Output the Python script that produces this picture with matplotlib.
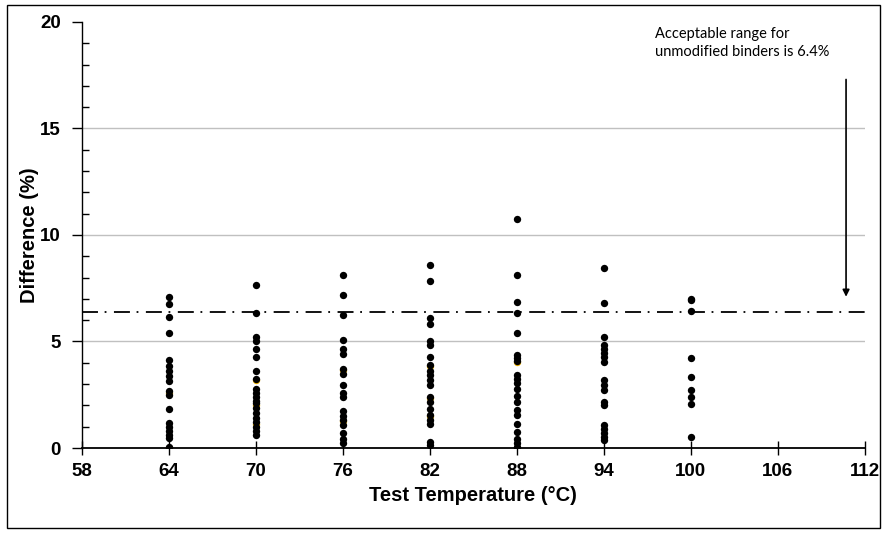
import numpy as np
import matplotlib
matplotlib.use('Agg')
import matplotlib.pyplot as plt
from matplotlib.patches import Rectangle
from matplotlib.ticker import MultipleLocator

temps = [64, 70, 76, 82, 88, 94, 100]

# difference (%), one list per test temperature
d64 = [7.07, 6.76, 6.13, 5.38, 4.13, 3.85, 3.63, 3.38, 3.13, 2.66, 2.49, 1.82,
       1.19, 1.0, 0.81, 0.61, 0.45, 0.06]
d70 = [7.65, 6.32, 5.2, 5.04, 4.63, 4.29, 3.63, 3.25, 2.75, 2.6, 2.41, 2.22,
       2.1, 1.86, 1.63, 1.39, 1.22, 1.0, 0.8, 0.61]
d76 = [8.12, 7.18, 6.24, 5.07, 4.63, 4.41, 3.72, 3.47, 2.96, 2.57, 2.41, 1.74,
       1.52, 1.31, 1.08, 0.72, 0.4, 0.25]
d82 = [8.59, 7.85, 6.12, 5.82, 5.04, 4.84, 4.26, 3.88, 3.63, 3.43, 3.19, 2.96,
       2.41, 2.17, 1.82, 1.53, 1.31, 1.13, 0.3, 0.14]
d88 = [10.75, 8.12, 6.84, 6.32, 5.41, 4.37, 4.21, 4.08, 3.43, 3.22, 3.03, 2.75,
       2.44, 2.17, 1.78, 1.55, 1.13, 0.77, 0.41, 0.22, 0.05]
d94 = [8.44, 6.79, 5.23, 4.84, 4.65, 4.44, 4.26, 4.05, 3.19, 2.96, 2.72, 2.17,
       2.02, 1.08, 0.89, 0.72, 0.5, 0.38]
d100 = [7.0, 6.95, 6.45, 4.24, 3.35, 2.72, 2.41, 2.07, 0.5]
diffs = [d64, d70, d76, d82, d88, d94, d100]

# second series (orange) mostly hidden behind the black points
o_temps = [64, 64, 70, 70, 70, 76, 76, 82, 82, 82, 88, 88]
o_diffs = [0.0, 2.58, 3.18, 2.03, 1.15, 3.66, 1.25, 3.84, 2.36, 1.48, 4.02, 0.0]

limit = 6.4

plt.rcParams['font.family'] = ['Liberation Sans', 'DejaVu Sans']
plt.rcParams['lines.scale_dashes'] = False

fig = plt.figure(figsize=(8.88, 5.35), dpi=100)
ax = fig.add_axes([0.092, 0.1626, 0.882, 0.7964])

fig.patches.append(Rectangle((0.008, 0.013), 0.983, 0.978, transform=fig.transFigure,
                             fill=False, ec='black', lw=1.0))

for v in [5, 10, 15]:
    ax.axhline(v, color='#c0c0c0', lw=1.0, zorder=0)

ax.scatter(o_temps, o_diffs, s=28, color='#f0b400', zorder=2, linewidths=0)
for t, d in zip(temps, diffs):
    ax.scatter(np.full(len(d), t), d, s=28, color='black', zorder=3, linewidths=0)

ax.plot([58, 112], [limit, limit], color='black', lw=1.3,
        linestyle=(0, (11.5, 4.8, 1.3, 5.4)), zorder=1)

ax.text(97.5, 19.75, 'Acceptable range for\nunmodified binders is 6.4%',
        family=['Lato', 'DejaVu Sans'], fontsize=10.5, va='top', ha='left',
        linespacing=1.35)
ax.annotate('', xy=(110.7, 7.1), xytext=(110.7, 17.3),
            arrowprops=dict(arrowstyle='-|>', color='black', lw=1.2,
                            mutation_scale=10, shrinkA=0, shrinkB=0))

ax.set_xlim(58, 112)
ax.set_ylim(0, 20)
ax.set_xticks(np.arange(58, 113, 6))
ax.yaxis.set_major_locator(MultipleLocator(5))
ax.yaxis.set_minor_locator(MultipleLocator(1))
ax.tick_params(axis='x', direction='inout', length=10, width=1, pad=6)
ax.tick_params(axis='y', which='major', direction='out', length=7, width=1, pad=8)
ax.tick_params(axis='y', which='minor', direction='in', length=5, width=1)
for lab in ax.get_xticklabels() + ax.get_yticklabels():
    lab.set_fontweight('bold')
    lab.set_fontsize(13.5)

ax.spines['top'].set_visible(False)
ax.spines['right'].set_visible(False)
ax.spines['left'].set_linewidth(1.0)
ax.spines['bottom'].set_linewidth(1.3)

ax.set_xlabel('Test Temperature (°C)', fontsize=14.5, fontweight='bold', labelpad=4)
ax.set_ylabel('Difference (%)', fontsize=14.5, fontweight='bold', labelpad=1)

fig.savefig('out.png', dpi=100)
